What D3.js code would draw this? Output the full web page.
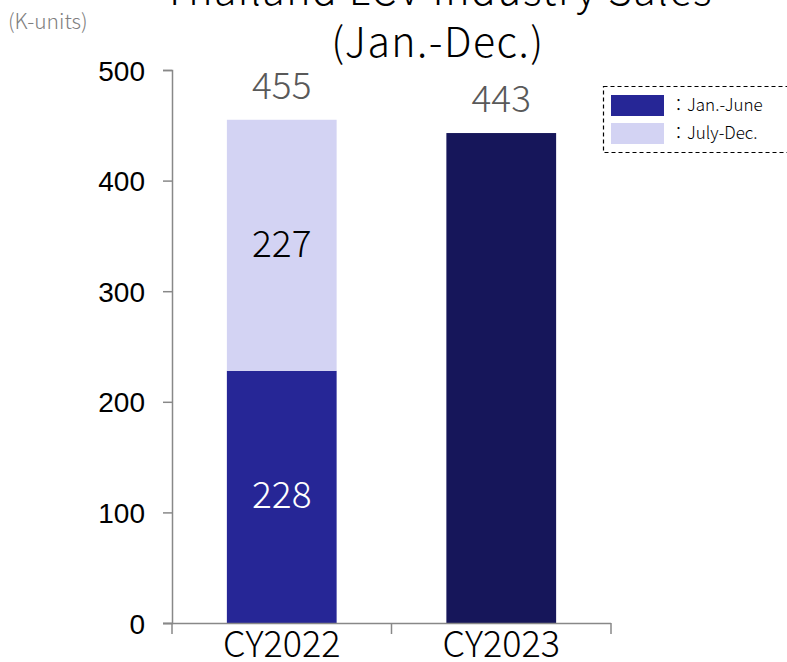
<!DOCTYPE html>
<html>
<head>
<meta charset="utf-8">
<script src="https://cdn.jsdelivr.net/npm/d3@7/dist/d3.min.js"></script>
<style>
  html, body { margin: 0; padding: 0; background: #fff; }
  svg { display: block; }
</style>
</head>
<body>
<script>
// Thailand LCV industry sales, stacked by half-year
const categories = ["CY2022", "CY2023"];
const janJune = [228, 443];
const julyDec = [227, null];
const totals = [455, 443];
const yTicks = [0, 100, 200, 300, 400, 500];
const seriesNames = ["：Jan.-June", "：July-Dec."];

const W = 787, H = 662;
const jpFont = "'Noto Sans CJK JP', 'Noto Sans', sans-serif";
const svg = d3.select("body").append("svg").attr("width", W).attr("height", H);

const x = d3.scaleBand().domain(categories).range([172, 611]).paddingInner(0.5).paddingOuter(0.25);
const y = d3.scaleLinear().domain([0, 500]).range([623, 70]);

const colJan = ["#262696", "#16165a"];
const colJul = "#d3d3f3";

// Title (first line runs off the top edge)
const title = svg.append("g").attr("font-family", jpFont).attr("font-weight", 300)
  .attr("font-size", 41).attr("fill", "#000").attr("text-anchor", "middle")
  .attr("letter-spacing", 1.5);
title.append("text").attr("x", 438).attr("y", 5).text("Thailand LCV Industry Sales");
title.append("text").attr("x", 438).attr("y", 57).text("(Jan.-Dec.)");

// Unit label
svg.append("text").attr("x", 8).attr("y", 29)
  .attr("font-family", jpFont).attr("font-weight", 300)
  .attr("font-size", 21).attr("fill", "#7f7f7f")
  .text("(K-units)");

// Bars: first half
svg.append("g").selectAll("rect").data(categories).join("rect")
  .attr("x", d => x(d)).attr("width", x.bandwidth())
  .attr("y", (d, i) => y(janJune[i]))
  .attr("height", (d, i) => y(0) - y(janJune[i]))
  .attr("fill", (d, i) => colJan[i]);

// Bars: second half
svg.append("g").selectAll("rect").data(categories.filter((d, i) => julyDec[i] != null)).join("rect")
  .attr("x", d => x(d)).attr("width", x.bandwidth())
  .attr("y", d => { const i = categories.indexOf(d); return y(janJune[i] + julyDec[i]); })
  .attr("height", d => { const i = categories.indexOf(d); return y(janJune[i]) - y(janJune[i] + julyDec[i]); })
  .attr("fill", colJul);

// Axes
const yAxis = svg.append("g").attr("transform", "translate(172,0)")
  .call(d3.axisLeft(y).tickValues(yTicks).tickSize(9).tickPadding(18).tickFormat(d3.format("d")));
yAxis.select(".domain").attr("stroke", "#888").attr("stroke-width", 1.5);
yAxis.selectAll(".tick line").attr("stroke", "#888").attr("stroke-width", 1.5);
yAxis.selectAll(".tick text").attr("font-family", "'Liberation Sans', Arial, sans-serif")
  .attr("font-size", 28).attr("fill", "#000").attr("dy", "0.36em");

const xAxis = svg.append("g").attr("transform", "translate(0,623)")
  .call(d3.axisBottom(x).tickSize(0).tickPadding(0).tickSizeOuter(0));
xAxis.select(".domain").attr("stroke", "#888").attr("stroke-width", 1.5)
  .attr("d", "M163,0.5H611");
xAxis.selectAll(".tick text").attr("font-family", jpFont).attr("font-weight", 300)
  .attr("font-size", 36).attr("fill", "#000").attr("dy", null).attr("y", 34);
// category separators
const seps = [172, (x(categories[0]) + x(categories[1]) + x.bandwidth()) / 2, 611];
xAxis.selectAll("line.sep").data(seps).join("line").attr("class", "sep")
  .attr("x1", d => d).attr("x2", d => d).attr("y1", 0).attr("y2", 11)
  .attr("stroke", "#888").attr("stroke-width", 1.5);

// Value labels
const lbl = svg.append("g").attr("font-family", jpFont).attr("font-weight", 300)
  .attr("text-anchor", "middle").attr("font-size", 37);
lbl.selectAll("text.total").data(categories).join("text").attr("class", "total")
  .attr("x", d => x(d) + x.bandwidth() / 2)
  .attr("y", (d, i) => y(totals[i]) - 21)
  .attr("fill", "#595959")
  .text((d, i) => totals[i]);
lbl.append("text").attr("x", x(categories[0]) + x.bandwidth() / 2)
  .attr("y", (y(janJune[0]) + y(janJune[0] + julyDec[0])) / 2 + 12)
  .attr("fill", "#000").text(julyDec[0]);
lbl.append("text").attr("x", x(categories[0]) + x.bandwidth() / 2)
  .attr("y", (y(0) + y(janJune[0])) / 2 + 11)
  .attr("fill", "#fff").text(janJune[0]);

// Legend
const lg = svg.append("g");
lg.append("rect").attr("x", 603.5).attr("y", 86.5).attr("width", 190).attr("height", 66)
  .attr("fill", "none").attr("stroke", "#000").attr("stroke-width", 1.2).attr("stroke-dasharray", "4,3");
const legendColors = [colJan[0], colJul];
seriesNames.forEach((n, i) => {
  lg.append("rect").attr("x", 611).attr("y", 95 + i * 28).attr("width", 53).attr("height", 21).attr("fill", legendColors[i]);
  lg.append("text").attr("x", 670).attr("y", 111 + i * 28)
    .attr("font-family", jpFont).attr("font-weight", 300)
    .attr("font-size", 17).attr("fill", "#000").text(n);
});
</script>
</body>
</html>
